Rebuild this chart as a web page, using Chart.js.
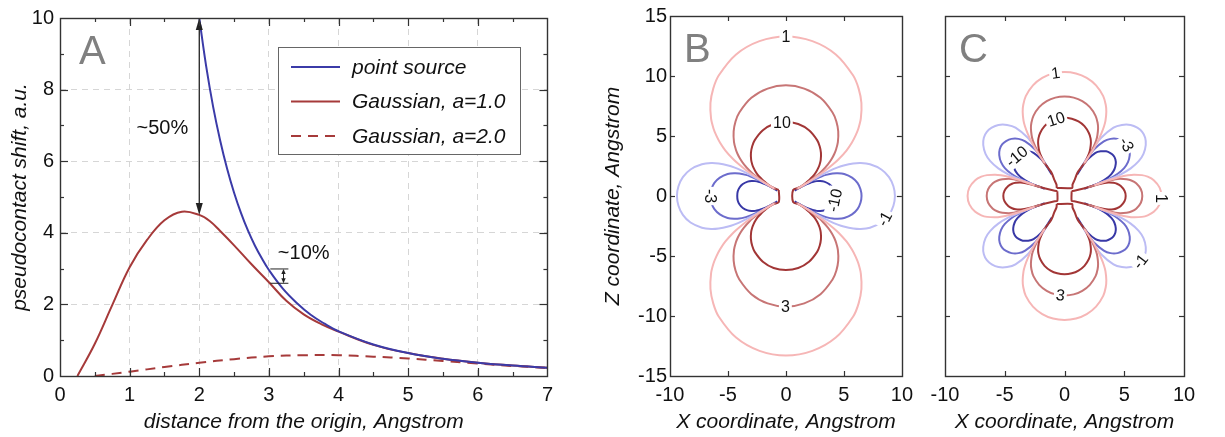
<!DOCTYPE html>
<html>
<head>
<meta charset="utf-8">
<script src="https://cdn.jsdelivr.net/npm/chart.js@4.4.1/dist/chart.umd.min.js"></script>
<style>
  html, body { margin: 0; padding: 0; background: #fff; }
  #wrap { position: relative; width: 1225px; height: 437px; overflow: hidden; }
  canvas { position: absolute; top: 0; }
</style>
</head>
<body>
<div id="wrap">
  <canvas id="pa" width="560" height="437" style="left:0px"></canvas>
  <canvas id="pb" width="320" height="437" style="left:600px"></canvas>
  <canvas id="pc" width="305" height="437" style="left:920px"></canvas>
</div>
<script>
const FONT = '"Liberation Sans", Arial, Helvetica, sans-serif';
const INK = '#111';
const BLUE = '#3b3ba8';
const RED = '#a63a3a';

// ---------- Panel A data ----------
const pointX = [2.0, 2.1, 2.2, 2.3, 2.4, 2.5, 2.6, 2.7, 2.8, 2.9, 3.0, 3.2, 3.4, 3.6, 3.8, 4.0, 4.5, 5.0, 5.5, 6.0, 6.5, 7.0];
const pointY = [10, 8.64, 7.51, 6.58, 5.79, 5.12, 4.55, 4.06, 3.64, 3.28, 2.96, 2.44, 2.04, 1.71, 1.46, 1.25, 0.88, 0.64, 0.48, 0.37, 0.29, 0.23];
const gauss1X = [0.25, 0.5, 0.75, 1.0, 1.25, 1.5, 1.75, 2.0, 2.15, 2.3, 2.5, 2.75, 3.0, 3.25, 3.5, 3.75, 4.0, 4.5, 5.0, 5.5, 6.0, 6.5, 7.0];
const gauss1Y = [0, 0.9, 1.98, 3.04, 3.8, 4.35, 4.59, 4.5, 4.33, 4.05, 3.65, 3.12, 2.62, 2.1, 1.72, 1.45, 1.24, 0.87, 0.64, 0.48, 0.37, 0.29, 0.23];
const gauss2X = [0.5, 1.0, 1.5, 2.0, 2.5, 3.0, 3.5, 4.0, 4.5, 5.0, 5.5, 6.0, 6.5, 7.0];
const gauss2Y = [0.0, 0.12, 0.25, 0.37, 0.47, 0.55, 0.58, 0.58, 0.54, 0.49, 0.42, 0.35, 0.28, 0.23];
const seriesA = ['point source', 'Gaussian, a=1.0', 'Gaussian, a=2.0'];

// ---------- Panel B contours: one quarter of each lobe (x >= 0, z >= 0) ----------
// positive lobes: from the top of the lobe down to the centre
const b1 = [[0, 13.3], [2.28, 12.91], [4.3, 11.8], [5.8, 10.04], [6.27, 8.95], [6.51, 7.75], [6.46, 6.46], [6.25, 5.63], [6.01, 5.05], [5.68, 4.44], [5.22, 3.79], [4.54, 3.06], [4.06, 2.64], [3.37, 2.1], [2.86, 1.76], [2.04, 1.22], [1.0, 0.62]];
const b3 = [[0, 9.22], [1.58, 8.95], [2.98, 8.18], [4.02, 6.96], [4.35, 6.21], [4.51, 5.38], [4.48, 4.48], [4.33, 3.9], [4.17, 3.5], [3.94, 3.08], [3.62, 2.63], [3.15, 2.12], [2.81, 1.82], [2.33, 1.46], [1.98, 1.22], [1.41, 0.85], [0.9, 0.56]];
const b10 = [[0, 6.17], [1.06, 6.0], [1.99, 5.48], [2.69, 4.66], [2.91, 4.15], [3.02, 3.6], [3.0, 3.0], [2.9, 2.61], [2.79, 2.34], [2.64, 2.06], [2.43, 1.76], [2.1, 1.42], [1.88, 1.22], [1.57, 0.98], [1.2, 0.73], [0.62, 0.5]];
// negative lobes: from the x tip up to the centre
const bm1 = [[9.4, 0], [9.27, 0.81], [8.89, 1.57], [8.23, 2.21], [7.25, 2.64], [6.45, 2.74], [5.8, 2.7], [4.98, 2.54], [4.47, 2.38], [3.81, 2.11], [2.84, 1.64], [2.17, 1.27], [1.1, 0.66]];
const bm3 = [[6.52, 0], [6.43, 0.56], [6.17, 1.09], [5.7, 1.53], [5.03, 1.83], [4.47, 1.9], [4.02, 1.88], [3.46, 1.76], [3.1, 1.65], [2.64, 1.46], [1.97, 1.14], [1.0, 0.6]];
const bm10 = [[4.2, 0], [4.16, 0.37], [4.0, 0.71], [3.72, 1.0], [3.3, 1.2], [2.95, 1.25], [2.66, 1.24], [2.3, 1.16], [2.05, 1.08], [1.76, 0.97], [1.32, 0.76], [0.75, 0.45]];

// ---------- Panel C contours ----------
const c1top = [[0, 10.33], [0.96, 10.21], [1.86, 9.84], [2.64, 9.22], [3.24, 8.32], [3.45, 7.6], [3.5, 7.02], [3.43, 6.28], [3.31, 5.81], [3.08, 5.2], [2.79, 4.57], [2.37, 3.81], [1.65, 2.75]];
const c3top = [[0, 8.29], [0.77, 8.2], [1.49, 7.9], [2.12, 7.4], [2.6, 6.68], [2.77, 6.1], [2.81, 5.64], [2.75, 5.04], [2.66, 4.66], [2.47, 4.17], [2.24, 3.67], [1.9, 3.06], [1.6, 2.62]];
const c10top = [[0, 6.52], [0.61, 6.44], [1.17, 6.21], [1.67, 5.82], [2.04, 5.25], [2.18, 4.8], [2.21, 4.43], [2.16, 3.96], [2.09, 3.67], [1.94, 3.28], [1.76, 2.88], [1.45, 2.45], [1.15, 2.05], [1.0, 1.75], [0.85, 1.35], [0.67, 0.95], [0.65, 0.67]];
const c1side = [[8.11, 0], [7.96, 0.7], [7.47, 1.32], [6.96, 1.61], [6.48, 1.74], [5.81, 1.78], [5.31, 1.73], [4.54, 1.56], [3.82, 1.35], [2.5, 0.9]];
const c3side = [[6.51, 0], [6.39, 0.56], [6.0, 1.06], [5.59, 1.29], [5.2, 1.39], [4.66, 1.43], [4.26, 1.39], [3.64, 1.25], [3.07, 1.08], [2.0, 0.72]];
const c10side = [[5.12, 0], [5.02, 0.44], [4.71, 0.83], [4.39, 1.02], [4.09, 1.1], [3.67, 1.12], [3.35, 1.09], [2.86, 0.98], [2.41, 0.85], [1.6, 0.62], [0.9, 0.45], [0.6, 0.4]];
// negative diagonal lobes, upper-right one
const cm1 = [[1.68, 2.84], [2.37, 3.94], [3.07, 4.85], [4.1, 5.7], [4.8, 5.92], [5.53, 5.92], [6.09, 5.7], [6.5, 5.35], [6.75, 4.86], [6.8, 4.25], [6.61, 3.51], [6.21, 2.9], [5.54, 2.3], [4.72, 1.81], [3.9, 1.44], [2.63, 0.95]];
const cm3 = [[1.35, 2.28], [1.9, 3.16], [2.46, 3.88], [3.29, 4.55], [3.85, 4.76], [4.44, 4.76], [4.89, 4.58], [5.22, 4.3], [5.42, 3.9], [5.46, 3.41], [5.31, 2.82], [4.99, 2.33], [4.45, 1.85], [3.79, 1.45], [3.13, 1.16], [2.11, 0.76]];
const cm10 = [[1.06, 1.79], [1.5, 2.49], [1.94, 3.05], [2.59, 3.6], [3.03, 3.72], [3.49, 3.72], [3.84, 3.58], [4.1, 3.36], [4.26, 3.05], [4.29, 2.68], [4.17, 2.21], [3.92, 1.83], [3.5, 1.45], [2.98, 1.14], [2.46, 0.91], [1.66, 0.6]];

const LEVEL_COLOR = {
  '1': '#f6b6b6', '3': '#c77575', '10': '#a23636',
  '-1': '#bcbcf4', '-3': '#6c6ccc', '-10': '#3838a6',
};

// contour labels: text, x, z, rotation (deg)
const labelsB = [['1', 0, 13.3, 0], ['10', -0.35, 6.15, 0], ['3', -0.05, -9.25, 0], ['-3', -6.52, 0, 90], ['-10', 4.2, -0.35, -78], ['-1', 8.5, -1.9, -62]];
const labelsC = [['1', -0.75, 10.25, -8], ['10', -0.7, 6.4, -18], ['-10', -4.0, 3.3, -40], ['-3', 5.2, 4.3, 60], ['1', 8.1, -0.2, 90], ['-1', 6.35, -5.45, -52], ['3', -0.35, -8.25, 8]];

// ---------- helpers ----------
const pts = (arr) => arr.map(([x, y]) => ({ x, y }));
const zip = (xs, ys) => xs.map((x, i) => ({ x, y: ys[i] }));
const rev = (arr) => arr.slice().reverse();
const mx = (arr) => arr.map(([x, z]) => [-x, z]);
const mz = (arr) => arr.map(([x, z]) => [x, -z]);
const closed = (arr) => [...arr, arr[0]];

// the lobes are symmetric: mirror a quarter into a whole lobe
function zLobe(q, s) {
  return [...rev(q).map(([x, z]) => [-x, s * z]), ...q.slice(1).map(([x, z]) => [x, s * z])];
}
function xLobe(q, s) {
  return [...rev(q).map(([x, z]) => [s * x, z]), ...q.slice(1).map(([x, z]) => [s * x, -z])];
}

function contour(level, arr, tension) {
  return {
    data: pts(arr),
    borderColor: LEVEL_COLOR[level],
    borderWidth: 2,
    showLine: true,
    pointRadius: 0,
    tension: tension,
    fill: false,
  };
}

function seg(ctx, x1, y1, x2, y2) {
  ctx.beginPath(); ctx.moveTo(x1, y1); ctx.lineTo(x2, y2); ctx.stroke();
}

// frame, inward ticks on all four sides, panel letter
function framePlugin(letter, letterDx, major, majorLen, minorLen) {
  return {
    id: 'frame' + letter,
    afterDraw(chart) {
      const { ctx, chartArea: a, scales } = chart;
      ctx.save();
      ctx.strokeStyle = '#333';
      ctx.lineWidth = 1.2;
      for (const t of scales.x.ticks) {
        if (t.value <= scales.x.min || t.value >= scales.x.max) continue;
        const len = major('x', t.value) ? majorLen : minorLen;
        const p = Math.round(scales.x.getPixelForValue(t.value)) + 0.5;
        seg(ctx, p, a.bottom, p, a.bottom - len);
        seg(ctx, p, a.top, p, a.top + len);
      }
      for (const t of scales.y.ticks) {
        if (t.value <= scales.y.min || t.value >= scales.y.max) continue;
        const len = major('y', t.value) ? majorLen : minorLen;
        const p = Math.round(scales.y.getPixelForValue(t.value)) + 0.5;
        seg(ctx, a.left, p, a.left + len, p);
        seg(ctx, a.right, p, a.right - len, p);
      }
      ctx.lineWidth = 1.4;
      ctx.strokeRect(Math.round(a.left) + 0.5, Math.round(a.top) + 0.5,
        Math.round(a.right - a.left), Math.round(a.bottom - a.top));
      ctx.fillStyle = '#808080';
      ctx.font = '40px ' + FONT;
      ctx.textBaseline = 'alphabetic';
      ctx.textAlign = 'left';
      ctx.fillText(letter, a.left + letterDx, a.top + 46);
      ctx.restore();
    },
  };
}

function labelPlugin(labels) {
  return {
    id: 'clabels',
    afterDatasetsDraw(chart) {
      const { ctx, scales: { x, y } } = chart;
      ctx.save();
      ctx.font = '16px ' + FONT;
      ctx.textAlign = 'center';
      ctx.textBaseline = 'middle';
      for (const [txt, vx, vy, rot] of labels) {
        ctx.save();
        ctx.translate(x.getPixelForValue(vx), y.getPixelForValue(vy));
        ctx.rotate(rot * Math.PI / 180);
        const w = ctx.measureText(txt).width;
        ctx.fillStyle = '#fff';
        ctx.fillRect(-w / 2 - 2, -8, w + 4, 16);
        ctx.fillStyle = INK;
        ctx.fillText(txt, 0, 1);
        ctx.restore();
      }
      ctx.restore();
    },
  };
}

function axis(min, max, step, opts) {
  return {
    type: 'linear',
    min, max,
    ticks: {
      stepSize: step,
      autoSkip: false,
      padding: opts.padding,
      display: opts.labels !== false,
      color: INK,
      font: { size: 20, family: FONT },
      callback: opts.callback || ((v) => String(v)),
    },
    grid: opts.grid || { display: false, drawTicks: false },
    border: opts.border || { display: false },
    title: {
      display: !!opts.title,
      text: opts.title || '',
      color: INK,
      font: { size: 21, style: 'italic', family: FONT },
      padding: opts.titlePad || 0,
    },
    afterFit: opts.fit,
  };
}

Chart.defaults.font.family = FONT;
Chart.defaults.color = INK;

// ---------- Panel A ----------
const gridColor = (ok) => (ctx) => (ok(ctx.tick.value) ? '#d6d6d6' : 'rgba(0,0,0,0)');

const annotA = {
  id: 'annotA',
  afterDatasetsDraw(chart) {
    const { ctx, chartArea: a, scales: { x, y } } = chart;
    ctx.save();
    // legend box
    const bx = a.left + 218, by = a.top + 29, bw = 242, bh = 107;
    ctx.fillStyle = '#fff';
    ctx.fillRect(bx, by, bw, bh);
    ctx.strokeStyle = '#666';
    ctx.lineWidth = 1;
    ctx.strokeRect(bx + 0.5, by + 0.5, bw, bh);
    chart.data.datasets.forEach((ds, i) => {
      const yy = by + 20 + i * 34.5;
      ctx.strokeStyle = ds.borderColor;
      ctx.lineWidth = ds.borderWidth;
      ctx.setLineDash(ds.borderDash || []);
      seg(ctx, bx + 13, yy, bx + 62, yy);
      ctx.setLineDash([]);
      ctx.fillStyle = INK;
      ctx.font = 'italic 21px ' + FONT;
      ctx.textBaseline = 'middle';
      ctx.textAlign = 'left';
      ctx.fillText(ds.label, bx + 74, yy + 1);
    });

    // ~50% arrow
    ctx.strokeStyle = '#222';
    ctx.fillStyle = '#222';
    ctx.lineWidth = 1.3;
    const ax = x.getPixelForValue(2), top = y.getPixelForValue(10), bot = y.getPixelForValue(4.5);
    seg(ctx, ax, top + 8, ax, bot - 8);
    head(ctx, ax, top, -1, 12, 3.5);
    head(ctx, ax, bot, 1, 12, 3.5);
    // ~10% marker
    const sx = x.getPixelForValue(3.21), y1 = y.getPixelForValue(2.99), y2 = y.getPixelForValue(2.59);
    const hx1 = x.getPixelForValue(3.02), hx2 = x.getPixelForValue(3.28);
    ctx.lineWidth = 1;
    seg(ctx, hx1, y1, hx2, y1);
    seg(ctx, hx1, y2, hx2, y2);
    seg(ctx, sx, y1 + 4, sx, y2 - 4);
    head(ctx, sx, y1, -1, 5, 2.2);
    head(ctx, sx, y2, 1, 5, 2.2);

    ctx.fillStyle = INK;
    ctx.font = '20px ' + FONT;
    ctx.textAlign = 'center';
    ctx.textBaseline = 'middle';
    ctx.fillText('~50%', x.getPixelForValue(1.47), y.getPixelForValue(6.92));
    ctx.fillText('~10%', x.getPixelForValue(3.5), y.getPixelForValue(3.42));
    ctx.restore();
  },
};

function head(ctx, px, py, dir, len, half) {
  ctx.beginPath();
  ctx.moveTo(px, py);
  ctx.lineTo(px - half, py - dir * len);
  ctx.lineTo(px + half, py - dir * len);
  ctx.closePath();
  ctx.fill();
}

new Chart(document.getElementById('pa'), {
  type: 'scatter',
  data: {
    datasets: [
      { label: seriesA[0], data: zip(pointX, pointY), borderColor: BLUE, borderWidth: 2, showLine: true, pointRadius: 0, tension: 0.4 },
      { label: seriesA[1], data: zip(gauss1X, gauss1Y), borderColor: RED, borderWidth: 2, showLine: true, pointRadius: 0, tension: 0.4 },
      { label: seriesA[2], data: zip(gauss2X, gauss2Y), borderColor: RED, borderWidth: 2, borderDash: [10, 7], showLine: true, pointRadius: 0, tension: 0.4 },
    ],
  },
  options: {
    responsive: false,
    animation: false,
    devicePixelRatio: 1,
    layout: { padding: { left: 0, top: 16, right: 11, bottom: 0 } },
    plugins: { legend: { display: false }, tooltip: { enabled: false } },
    scales: {
      x: axis(0, 7, 0.5, {
        padding: 7,
        callback: (v) => (Number.isInteger(v) ? String(v) : ''),
        grid: { drawTicks: false, lineWidth: 1, color: gridColor((v) => Number.isInteger(v) && v > 0 && v < 7) },
        border: { display: false, dash: [6, 5] },
        title: 'distance from the origin, Angstrom',
        titlePad: { top: 0, bottom: 2 },
        fit: (s) => { s.height = 61; },
      }),
      y: axis(0, 10, 1, {
        padding: 6,
        callback: (v) => (v % 2 === 0 ? String(v) : ''),
        grid: { drawTicks: false, lineWidth: 1, color: gridColor((v) => v % 2 === 0 && v > 0 && v < 10) },
        border: { display: false, dash: [6, 5] },
        title: 'pseudocontact shift, a.u.',
        titlePad: { top: 8, bottom: 0 },
        fit: (s) => { s.width = 60; },
      }),
    },
  },
  plugins: [annotA, framePlugin('A', 19, (ax, v) => (ax === 'x' ? Number.isInteger(v) : v % 2 === 0), 8, 4)],
});

// ---------- Panel B ----------
const datasetsB = [
  contour('1', zLobe(b1, 1), 0.3), contour('1', zLobe(b1, -1), 0.3),
  contour('3', zLobe(b3, 1), 0.3), contour('3', zLobe(b3, -1), 0.3),
  contour('10', closed([...zLobe(b10, 1), ...rev(zLobe(b10, -1))]), 0.3),
  contour('-1', xLobe(bm1, 1), 0.3), contour('-1', xLobe(bm1, -1), 0.3),
  contour('-3', xLobe(bm3, 1), 0.3), contour('-3', xLobe(bm3, -1), 0.3),
  contour('-10', xLobe(bm10, 1), 0.3), contour('-10', xLobe(bm10, -1), 0.3),
];

new Chart(document.getElementById('pb'), {
  type: 'scatter',
  data: { datasets: datasetsB },
  options: {
    responsive: false,
    animation: false,
    devicePixelRatio: 1,
    layout: { padding: { left: 0, top: 16, right: 12, bottom: 0 } },
    plugins: { legend: { display: false }, tooltip: { enabled: false } },
    scales: {
      x: axis(-10, 10, 5, {
        padding: 7,
        title: 'X coordinate, Angstrom',
        titlePad: { top: 0, bottom: 2 },
        fit: (s) => { s.height = 61; },
      }),
      y: axis(-15, 15, 5, {
        padding: 3,
        title: 'Z coordinate, Angstrom',
        titlePad: { top: 1, bottom: 0 },
        fit: (s) => { s.width = 70; },
      }),
    },
  },
  plugins: [labelPlugin(labelsB), framePlugin('B', 14, () => true, 5, 5)],
});

// ---------- Panel C ----------
const datasetsC = [
  contour('1', zLobe(c1top, 1), 0.3), contour('1', zLobe(c1top, -1), 0.3),
  contour('1', xLobe(c1side, 1), 0.3), contour('1', xLobe(c1side, -1), 0.3),
  contour('3', zLobe(c3top, 1), 0.3), contour('3', zLobe(c3top, -1), 0.3),
  contour('3', xLobe(c3side, 1), 0.3), contour('3', xLobe(c3side, -1), 0.3),
  contour('10', closed(zLobe(c10top, 1)), 0.2), contour('10', closed(zLobe(c10top, -1)), 0.2),
  contour('10', closed(xLobe(c10side, 1)), 0.2), contour('10', closed(xLobe(c10side, -1)), 0.2),
  contour('-1', cm1, 0.3), contour('-1', mx(cm1), 0.3), contour('-1', mz(cm1), 0.3), contour('-1', mx(mz(cm1)), 0.3),
  contour('-3', cm3, 0.3), contour('-3', mx(cm3), 0.3), contour('-3', mz(cm3), 0.3), contour('-3', mx(mz(cm3)), 0.3),
  contour('-10', cm10, 0.3), contour('-10', mx(cm10), 0.3), contour('-10', mz(cm10), 0.3), contour('-10', mx(mz(cm10)), 0.3),
];

new Chart(document.getElementById('pc'), {
  type: 'scatter',
  data: { datasets: datasetsC },
  options: {
    responsive: false,
    animation: false,
    devicePixelRatio: 1,
    layout: { padding: { left: 0, top: 16, right: 41, bottom: 0 } },
    plugins: { legend: { display: false }, tooltip: { enabled: false } },
    scales: {
      x: axis(-10, 10, 5, {
        padding: 7,
        title: 'X coordinate, Angstrom',
        titlePad: { top: 0, bottom: 2 },
        fit: (s) => { s.height = 61; },
      }),
      y: axis(-15, 15, 5, {
        padding: 3,
        labels: false,
        fit: (s) => { s.width = 25; },
      }),
    },
  },
  plugins: [labelPlugin(labelsC), framePlugin('C', 14, () => true, 5, 5)],
});
</script>
</body>
</html>
